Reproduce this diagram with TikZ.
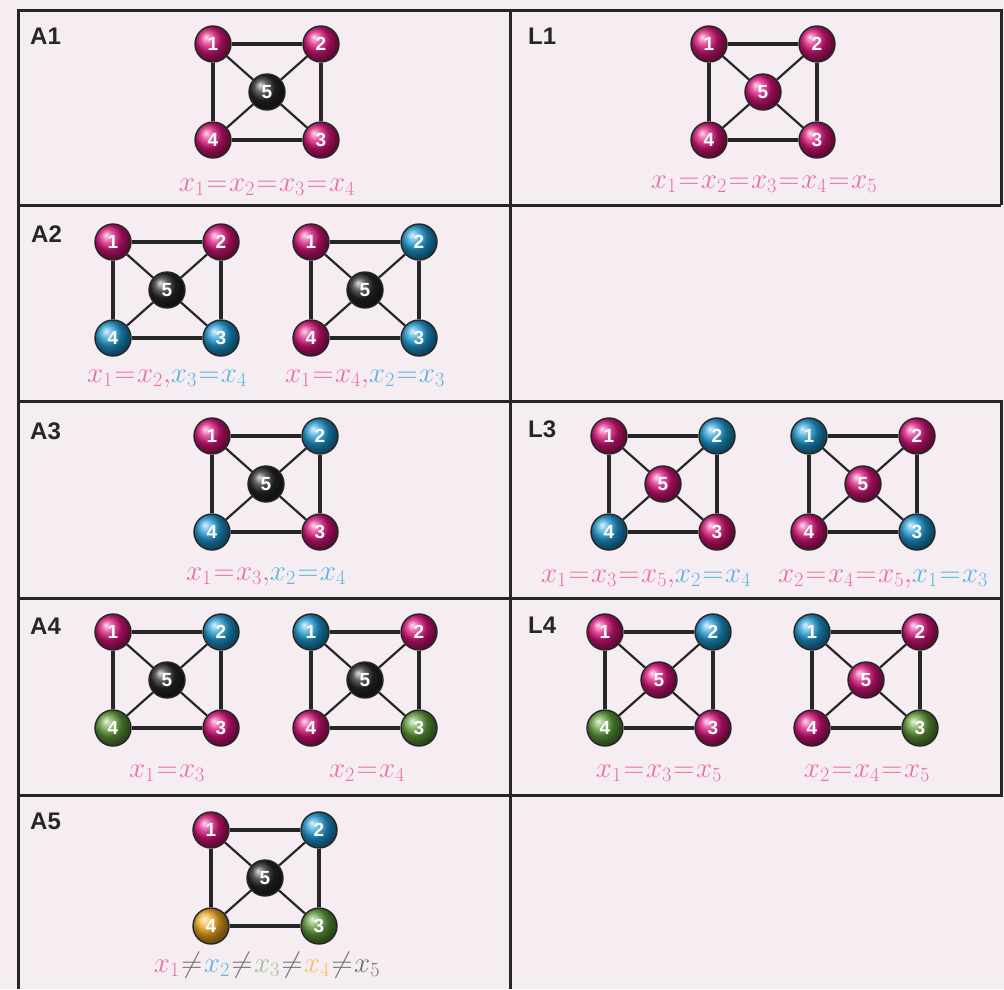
\RequirePackage{fix-cm}
\documentclass[tikz,border=0pt]{standalone}
\usepackage{fontspec}
\setsansfont{Liberation Sans}
\usetikzlibrary{backgrounds}
\definecolor{bg}{HTML}{F6EDF3}
\definecolor{frame}{HTML}{262626}
\definecolor{mag}{HTML}{D8147A}
\definecolor{cya}{HTML}{1E98D0}
\definecolor{blk}{HTML}{262626}
\definecolor{grn}{HTML}{5E9A38}
\definecolor{org}{HTML}{EEA81E}
\definecolor{tmag}{HTML}{E8709F}
\definecolor{tcya}{HTML}{5CB2E0}
\definecolor{tgrn}{HTML}{9CC390}
\definecolor{torg}{HTML}{F2C35E}
\definecolor{tgry}{HTML}{6E6E6E}
\tikzset{
  ballnode/.style={circle, minimum size=36pt, inner sep=0pt, draw=black!85, line width=1.4pt,
    shading=ball, ball color=#1, text=white, font=\sffamily\bfseries\fontsize{19}{19}\selectfont},
  sqedge/.style={draw=blk, line width=3.2pt},
  dgedge/.style={draw=blk, line width=2.2pt},
  cellline/.style={draw=frame, line width=3pt},
  tag/.style={font=\sffamily\bfseries\fontsize{24}{24}\selectfont, text=blk, anchor=base west, inner sep=0pt},
  eqlabel/.style={font=\fontsize{29}{29}\selectfont, anchor=base, inner sep=0pt},
}
\newcommand{\sqg}[8]{%
  \node[ballnode=#4] (#1-1) at (#2-54,#3-48) {1};
  \node[ballnode=#5] (#1-2) at (#2+54,#3-48) {2};
  \node[ballnode=#6] (#1-3) at (#2+54,#3+48) {3};
  \node[ballnode=#7] (#1-4) at (#2-54,#3+48) {4};
  \node[ballnode=#8] (#1-5) at (#2,#3) {5};
  \draw[sqedge] (#1-1) -- (#1-2) -- (#1-3) -- (#1-4) -- (#1-1);
  \draw[dgedge] (#1-1) -- (#1-5) -- (#1-3) (#1-2) -- (#1-5) -- (#1-4);
}
\thickmuskip=1mu
\newcommand{\cm}{\mathord{,}}
\begin{document}
\begin{tikzpicture}[x=1pt,y=-1pt]
\useasboundingbox (0,0) rectangle (1004,989);
\fill[bg] (0,0) rectangle (1004,989);
% frames
\draw[cellline] (18,989) -- (18,10) -- (1001,10) -- (1001,205);
\draw[cellline] (510,10) -- (510,989);
\draw[cellline] (18,205) -- (1001,205);
\draw[cellline] (18,401) -- (1001,401) -- (1001,795) -- (18,795);
\draw[cellline] (18,598) -- (1001,598);
% tags
\node[tag] (tA1) at (30,44) {A1};
\node[tag] (tA2) at (31,242) {A2};
\node[tag] (tA3) at (30,439) {A3};
\node[tag] (tA4) at (30,634) {A4};
\node[tag] (tA5) at (30,829) {A5};
\node[tag] (tL1) at (528,44) {L1};
\node[tag] (tL3) at (528,437) {L3};
\node[tag] (tL4) at (528,633) {L4};
% graphs
\sqg{a1}{267}{92}{mag}{mag}{mag}{mag}{blk}
\sqg{a2l}{167}{290}{mag}{mag}{cya}{cya}{blk}
\sqg{a2r}{365}{290}{mag}{cya}{cya}{mag}{blk}
\sqg{a3}{266}{484}{mag}{cya}{mag}{cya}{blk}
\sqg{a4l}{167}{680}{mag}{cya}{mag}{grn}{blk}
\sqg{a4r}{365}{680}{cya}{mag}{grn}{mag}{blk}
\sqg{a5}{265}{878}{mag}{cya}{grn}{org}{blk}
\sqg{l1}{763}{92}{mag}{mag}{mag}{mag}{mag}
\sqg{l3l}{663}{484}{mag}{cya}{mag}{cya}{mag}
\sqg{l3r}{863}{484}{cya}{mag}{cya}{mag}{mag}
\sqg{l4l}{659}{680}{mag}{cya}{mag}{grn}{mag}
\sqg{l4r}{866}{680}{cya}{mag}{grn}{mag}{mag}
% labels
\node[eqlabel] (ea1) at (267,191) {\color{tmag}$x_1=x_2=x_3=x_4$};
\node[eqlabel] (ea2l) at (167,382) {$\color{tmag}x_1=x_2\cm\color{tcya}x_3=x_4$};
\node[eqlabel] (ea2r) at (365,382) {$\color{tmag}x_1=x_4\cm\color{tcya}x_2=x_3$};
\node[eqlabel] (ea3) at (266,580) {$\color{tmag}x_1=x_3\cm\color{tcya}x_2=x_4$};
\node[eqlabel] (ea4l) at (167,777) {\color{tmag}$x_1=x_3$};
\node[eqlabel] (ea4r) at (367,777) {\color{tmag}$x_2=x_4$};
\node[eqlabel] (ea5) at (267,972) {$\color{tmag}x_1\color{tgry}\neq\color{tcya}x_2\color{tgry}\neq\color{tgrn}x_3\color{tgry}\neq\color{torg}x_4\color{tgry}\neq x_5$};
\node[eqlabel] (el1) at (764,188) {\color{tmag}$x_1=x_2=x_3=x_4=x_5$};
\node[eqlabel] (el3l) at (646,582) {$\color{tmag}x_1=x_3=x_5\cm\color{tcya}x_2=x_4$};
\node[eqlabel] (el3r) at (883,582) {$\color{tmag}x_2=x_4=x_5\cm\color{tcya}x_1=x_3$};
\node[eqlabel] (el4l) at (659,777) {\color{tmag}$x_1=x_3=x_5$};
\node[eqlabel] (el4r) at (867,777) {\color{tmag}$x_2=x_4=x_5$};
\end{tikzpicture}
\end{document}
